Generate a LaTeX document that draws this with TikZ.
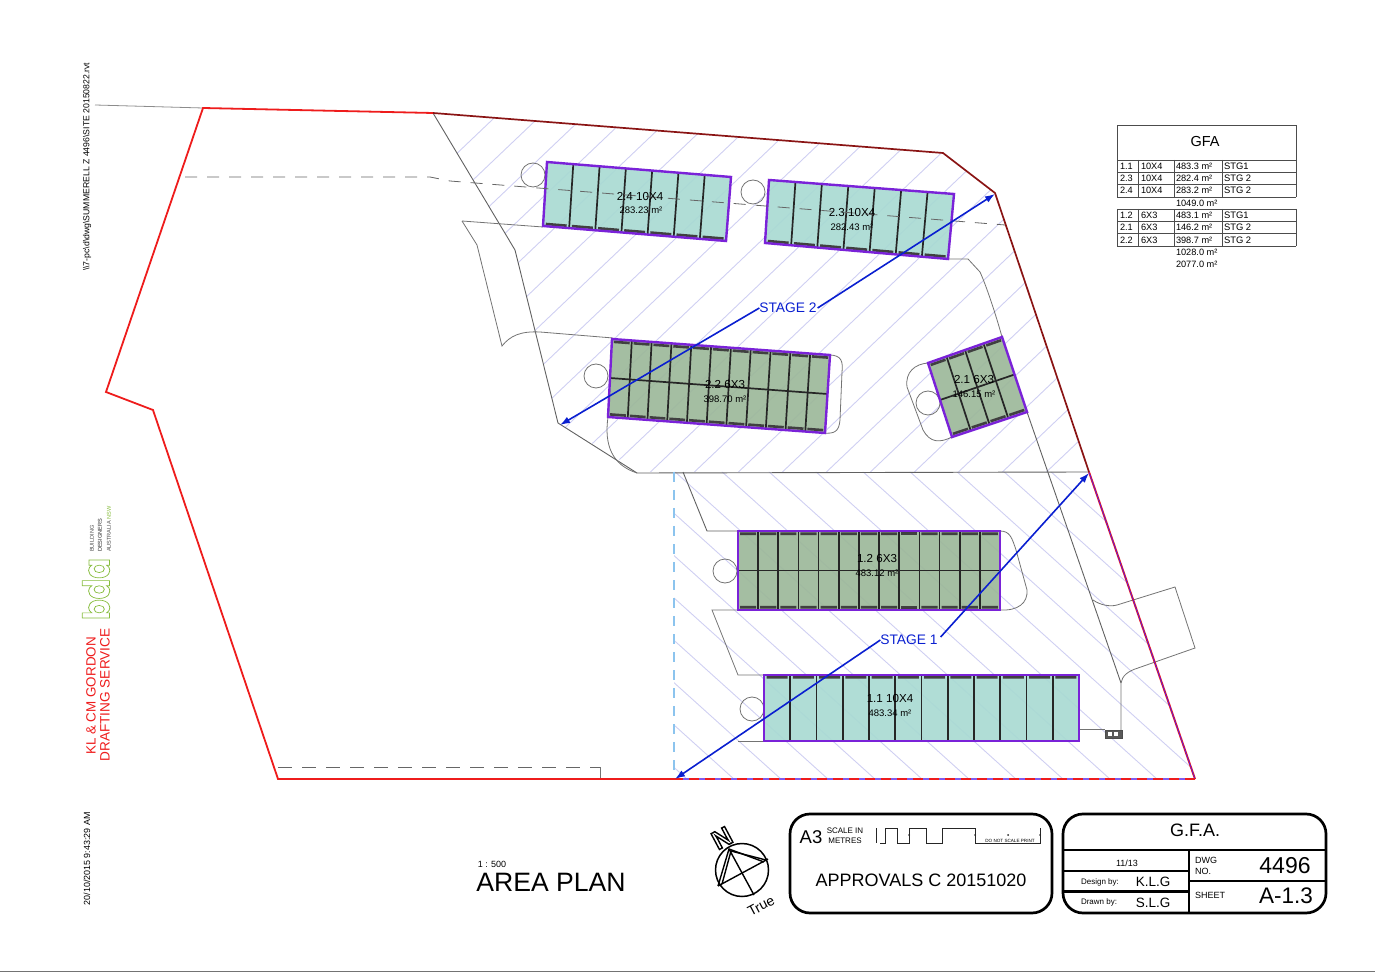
\documentclass[tikz,border=0pt]{standalone}
\usepackage{fontspec}
\setmainfont{Liberation Sans}
\newfontfamily\logofont{Poppins}
\usetikzlibrary{calc,arrows.meta}
\definecolor{sitered}{HTML}{EE1C1C}
\definecolor{darkred}{HTML}{8A1414}
\definecolor{hatchc}{HTML}{CFCFF2}
\definecolor{teal}{HTML}{A9DAD3}
\definecolor{sage}{HTML}{9CB89A}
\definecolor{purp}{HTML}{7A22D8}
\definecolor{arrowb}{HTML}{0A1FD0}
\definecolor{paleb}{HTML}{8CC4EE}
\definecolor{logog}{HTML}{86BC3C}
\newcommand{\fpx}[1]{\fontsize{\fpeval{#1/2}}{\fpeval{#1*0.6}}\selectfont}
\newcommand{\hollow}[2]{\special{pdf:code 1 Tr #1 w}#2\special{pdf:code 0 Tr}}
\tikzset{
  lab/.style={inner sep=0pt,outer sep=0pt},
  road/.style={draw=black!62,line width=0.45pt},
  turn/.style={draw=black!55,line width=0.4pt},
  hatch/.style={draw=hatchc,line width=0.45pt},
  bldg/.style={draw=purp,line width=1.2pt,line join=miter},
  bayline/.style={draw=black!85,line width=0.85pt},
  band/.style={draw=black!75,line width=1.3pt},
  stagearrow/.style={draw=arrowb,line width=0.8pt},
  sheet/.style={draw=black,line width=1.35pt},
  tline/.style={draw=black!70,line width=0.45pt},
  dashline/.style={draw=black!60,line width=0.4pt,dash pattern=on 6pt off 5pt},
}
% bays between edge A-B and edge D-C
\newcommand{\bays}[5]{%
  \pgfmathtruncatemacro\bm{#5-1}%
  \foreach \i in {1,...,\bm}{\pgfmathsetmacro\bt{\i/#5}%
    \draw[bayline] ($(#1)!\bt!(#2)$) -- ($(#4)!\bt!(#3)$);}}
% dark bands along edge A-B, offset towards D-C
\newcommand{\bands}[5]{%
  \pgfmathtruncatemacro\bm{#5-1}%
  \foreach \i in {0,...,\bm}{\pgfmathsetmacro\bs{(\i+.1)/#5}\pgfmathsetmacro\be{(\i+.9)/#5}%
    \draw[band] ($($(#1)!\bs!(#2)$)!.035!($(#4)!\bs!(#3)$)$) -- ($($(#1)!\be!(#2)$)!.035!($(#4)!\be!(#3)$)$);}}
\newcommand{\trow}[6]{%
  \node[lab,anchor=west,font=\fpx{9.2}] (r#1a) at (1120,#2) {#3};
  \node[lab,anchor=west,font=\fpx{9.2}] (r#1b) at (1141,#2) {#4};
  \node[lab,anchor=west,font=\fpx{9.2}] (r#1c) at (1176,#2) {#5 m²};
  \node[lab,anchor=west,font=\fpx{9.4}] (r#1d) at (1224,#2) {#6};}
\begin{document}
\begin{tikzpicture}[x=0.5pt,y=-0.5pt]
\useasboundingbox (0,0) rectangle (1375,972);
% ---- hatching
\begin{scope}
  \clip (433,113) -- (943,153) -- (995,193) -- (1089,472) -- (640,472) -- (558,423) -- (515,250) -- cycle;
  \foreach \n in {0,...,23}{\draw[hatch] ({618+44*\n-105},100) -- ({618+44*\n-504},480);}
\end{scope}
\begin{scope}
  \clip (674,472) -- (1089,472) -- (1195,779) -- (674,779) -- cycle;
  \foreach \n in {-11,...,8}{\draw[hatch] ({245+47*\n+522},470) -- ({245+47*\n+866},780);}
\end{scope}
% ---- site lines
\draw[draw=black!45,line width=0.4pt] (95,105) -- (203,108);
\draw[road] (433,113) -- (515,250) -- (558,423) -- (637,473) -- (1089,472);
\draw[turn] (462,221) -- (543,227);
\draw[turn] (462,221) -- (477,245) -- (502,346) .. controls (510,336) and (520,331) .. (540,332) -- (613,338);
\draw[turn] (608,417) .. controls (604,445) and (612,465) .. (637,473);
\draw[turn] (829,355) .. controls (842,355) and (843,362) .. (842,372) -- (840,420) .. controls (839,432) and (834,434) .. (823,433);
\draw[turn] (948,259) -- (968,259) -- (980,272) .. controls (986,285) and (996,315) .. (1002,337);
\draw[turn] (928,363) .. controls (915,364) and (905,372) .. (907,387) -- (923,430) .. controls (930,443) and (940,443) .. (952,437);
\draw[road] (1027,412) -- (1121,683);
\draw[turn] (1093,600) .. controls (1100,605) and (1110,607) .. (1117,605) -- (1175,587) -- (1195,648) -- (1138,668) .. controls (1128,671) and (1122,676) .. (1121,683) -- (1121,730);
\draw[turn] (1079,729) -- (1105,729);
\draw[road] (683,472) -- (707,531) -- (738,531);
\draw[turn] (1000,531) .. controls (1010,531) and (1012,538) .. (1016,550) -- (1027,590) .. controls (1028,603) and (1018,611) .. (1000,610);
\draw[turn] (738,610) -- (712,610) -- (738,675) -- (764,675);
\draw[turn] (738,741) -- (764,741);
\draw[fill=black!65,draw=black!70,line width=0.4pt] (1105,730) rectangle (1122,738);
\draw[fill=white,draw=none] (1108,732) rectangle (1112,736);
\draw[fill=white,draw=none] (1114,732) rectangle (1118,736);
% circles
\foreach \cx/\cy in {533/175,753/192,596/376,928/403,725/571,752/709}{
  \draw[turn] (\cx,\cy) circle [radius=12];}
% ---- buildings
\coordinate (a24) at (547,162); \coordinate (b24) at (731,177); \coordinate (c24) at (726,241); \coordinate (d24) at (543,226);
\coordinate (a23) at (769,180); \coordinate (b23) at (954,194); \coordinate (c23) at (948,259); \coordinate (d23) at (765,243);
\coordinate (a22) at (612,339); \coordinate (b22) at (830,355); \coordinate (c22) at (825,433); \coordinate (d22) at (608,417);
\coordinate (a21) at (928,363); \coordinate (b21) at (1002,337); \coordinate (c21) at (1027,412); \coordinate (d21) at (952,437);
\coordinate (a12) at (738,531); \coordinate (b12) at (1000,531); \coordinate (c12) at (1000,610); \coordinate (d12) at (738,610);
\coordinate (a11) at (764,675); \coordinate (b11) at (1079,675); \coordinate (c11) at (1079,741); \coordinate (d11) at (764,741);
\foreach \bid/\fc in {24/teal,23/teal,22/sage,21/sage,12/sage,11/teal}{
  \fill[\fc,opacity=.92] (a\bid) -- (b\bid) -- (c\bid) -- (d\bid) -- cycle;}
\bays{a24}{b24}{c24}{d24}{7}\bands{d24}{c24}{b24}{a24}{7}
\bays{a23}{b23}{c23}{d23}{7}\bands{d23}{c23}{b23}{a23}{7}
\bays{a22}{b22}{c22}{d22}{11}\bands{a22}{b22}{c22}{d22}{11}\bands{d22}{c22}{b22}{a22}{11}
\bays{a21}{b21}{c21}{d21}{4}\bands{a21}{b21}{c21}{d21}{4}\bands{d21}{c21}{b21}{a21}{4}
\bays{a12}{b12}{c12}{d12}{13}\bands{a12}{b12}{c12}{d12}{13}\bands{d12}{c12}{b12}{a12}{13}
\bays{a11}{b11}{c11}{d11}{12}\bands{a11}{b11}{c11}{d11}{12}
\draw[bayline] ($(a22)!.5!(d22)$) -- ($(b22)!.5!(c22)$);
\draw[bayline] ($(a21)!.5!(d21)$) -- ($(b21)!.5!(c21)$);
\draw[bayline] ($(a12)!.5!(d12)$) -- ($(b12)!.5!(c12)$);
\foreach \bid in {24,23,22,21,12,11}{
  \draw[bldg] (a\bid) -- (b\bid) -- (c\bid) -- (d\bid) -- cycle;}
% ---- dashed lines
\draw[dashline] (185,177) -- (430,177) -- (450,181) -- (1005,225);
\draw[dashline,dash pattern=on 7pt off 5pt] (278,767) -- (600,767);
\draw[draw=black!55,line width=0.4pt] (600,767) -- (600,779);
\draw[draw=paleb,line width=0.6pt,dash pattern=on 5pt off 4pt] (674,472) -- (674,779);
% ---- boundary
\draw[draw=sitered,line width=0.9pt,line join=miter] (433,113) -- (203,108) -- (106,392) -- (153,410) -- (278,779) -- (674,779);
\draw[draw=darkred,line width=0.85pt,line join=miter] (433,113) -- (943,153) -- (995,193) -- (1089,472);
\draw[draw=sitered,line width=1pt] (1089,472) -- (1195,779);
\draw[draw=purp!70!blue,line width=0.35pt] (1089,472) -- (1195,779);
\draw[draw=purp!60!blue!70!white,line width=0.6pt] (1195,779) -- (674,779);
\draw[draw=sitered,line width=0.7pt,dash pattern=on 5pt off 3pt] (1195,779) -- (674,779);
% ---- building labels
\node[lab,font=\fpx{11.6}] (l24) at (640,197) {2.4 10X4};
\node[lab,font=\fpx{9.5}] (m24) at (641,210) {283.23 m²};
\node[lab,font=\fpx{11.6}] (l23) at (852,213) {2.3 10X4};
\node[lab,font=\fpx{9.5}] (m23) at (852,227) {282.43 m²};
\node[lab,font=\fpx{11.6}] (l22) at (725,385) {2.2 6X3};
\node[lab,font=\fpx{9.5}] (m22) at (725,399) {398.70 m²};
\node[lab,font=\fpx{11.6}] (l21) at (974,380) {2.1 6X3};
\node[lab,font=\fpx{9.5}] (m21) at (974,394) {146.15 m²};
\node[lab,font=\fpx{11.6}] (l12) at (877,559) {1.2 6X3};
\node[lab,font=\fpx{9.5}] (m12) at (877,573) {483.12 m²};
\node[lab,font=\fpx{11.6}] (l11) at (890,699) {1.1 10X4};
\node[lab,font=\fpx{9.5}] (m11) at (890,713) {483.34 m²};
% ---- stage arrows
\coordinate (s2a) at (995,194); \coordinate (s2b) at (560,425);
\coordinate (s1a) at (1089,473); \coordinate (s1b) at (675,779);
\node[lab,text=arrowb,font=\fpx{13.8}] (stage2) at (788,308) {STAGE 2};
\node[lab,text=arrowb,font=\fpx{13.8}] (stage1) at (909,640) {STAGE 1};
\draw[stagearrow,-{Latex[length=5pt,width=3.5pt]}] (stage2.east) ++(1,0) -- (s2a);
\draw[stagearrow,-{Latex[length=5pt,width=3.5pt]}] (stage2.west) -- (s2b);
\draw[stagearrow,-{Latex[length=5pt,width=3.5pt]}] (stage1.east) ++(3,-3) -- (s1a);
\draw[stagearrow,-{Latex[length=5pt,width=3.5pt]}] (stage1.west) -- (s1b);
% ---- GFA table
\draw[tline] (1117,125) rectangle (1296,160);
\node[lab,font=\fpx{14.5}] (gfa) at (1205,142) {GFA};
\foreach \yy in {160,172,184,197,209,221,233,246}{\draw[tline] (1117,\yy) -- (1296,\yy);}
\foreach \xx in {1117,1138,1174,1222,1296}{\draw[tline] (\xx,160) -- (\xx,197); \draw[tline] (\xx,209) -- (\xx,246);}
\trow{1}{166}{1.1}{10X4}{483.3}{STG1}
\trow{2}{178}{2.3}{10X4}{282.4}{STG 2}
\trow{3}{190}{2.4}{10X4}{283.2}{STG 2}
\node[lab,anchor=west,font=\fpx{9.2}] (sum1) at (1176,203) {1049.0 m²};
\trow{4}{215}{1.2}{6X3}{483.1}{STG1}
\trow{5}{227}{2.1}{6X3}{146.2}{STG 2}
\trow{6}{240}{2.2}{6X3}{398.7}{STG 2}
\node[lab,anchor=west,font=\fpx{9.2}] (sum2) at (1176,252) {1028.0 m²};
\node[lab,anchor=west,font=\fpx{9.2}] (sum3) at (1176,264) {2077.0 m²};
% ---- margin texts
\node[lab,rotate=90,anchor=west,font=\fpx{8.7}] (path) at (87,271) {\textbackslash\textbackslash 7-pc\textbackslash d\textbackslash dwg\textbackslash SUMMERELL Z 4496\textbackslash SITE 20150822.rvt};
\node[lab,rotate=90,anchor=west,font=\fpx{8.9}] (stamp) at (87,905) {20/10/2015 9:43:29 AM};
\node[lab,rotate=90,text=sitered,font=\fpx{13.4}] (kl) at (91,696) {KL \& CM GORDON};
\node[lab,rotate=90,text=sitered,font=\fpx{13.6}] (ds) at (105,695) {DRAFTING SERVICE};
\node[lab,rotate=90,text=logog,xscale=.82,font=\logofont\bfseries\fpx{37}] (bda) at (96,589) {\hollow{0.4}{bda}};
\node[lab,rotate=90,anchor=west,text=black!70,font=\fpx{5.6}] (bd1) at (92,552) {BUILDING};
\node[lab,rotate=90,anchor=west,text=black!85,font=\fpx{5.6}] (bd2) at (100,552) {DESIGNERS};
\node[lab,rotate=90,anchor=west,text=black!70,font=\fpx{5.6}] (bd3) at (109,552) {AUSTRALIA \textcolor{logog}{NSW}};
% ---- drawing title
\node[lab,font=\fpx{9}] (scale) at (492,864) {1 : 500};
\node[lab,font=\fpx{26.6}] (plan) at (551,882) {AREA PLAN};
% ---- north point
\coordinate (nc) at (742,870);
\draw[draw=black,line width=0.75pt] (nc) circle [radius=26.5];
\coordinate (ntop) at (729,849); \coordinate (nbot) at (754,895);
\coordinate (wl) at (718,886); \coordinate (wr) at (768,859);
\draw[draw=black,line width=0.7pt] (ntop) -- (nbot);
\draw[draw=black,line width=0.7pt] (wl) -- (wr);
\draw[draw=black,line width=0.7pt] (wl) -- (ntop) -- (764,862);
\draw[draw=black,line width=0.7pt] (722,884) -- (731,851) -- (766,860);
\node[lab,rotate=28,font=\bfseries\fpx{26}] (north) at (722,838) {\hollow{0.7}{N}};
\node[lab,rotate=28,font=\fpx{14}] (true) at (761,906) {True};
% ---- sheet boxes
\draw[sheet,rounded corners=10pt] (790,814) rectangle (1052,913);
\node[lab,font=\fpx{18.5}] (a3) at (811,837) {A3};
\node[lab,font=\fpx{8}] (sc1) at (845,831) {SCALE IN};
\node[lab,font=\fpx{8}] (sc2) at (845,841) {METRES};
\node[lab,font=\fpx{18}] (appr) at (921,880) {APPROVALS C 20151020};
\draw[draw=black!85,line width=0.45pt] (876,828) -- (876,843);
\draw[draw=black!85,line width=0.45pt] (880,843) -- (885,843) -- (885,828) -- (897,828) -- (897,843) -- (909,843) -- (909,828) -- (926,828) -- (926,843) -- (942,843) -- (942,828) -- (975,828) -- (975,843) -- (1040,843) -- (1040,828);
\foreach \tx in {909,975,1008,1040}{\fill[black!85] (\tx,835) circle [radius=1];}
\node[lab,font=\fpx{4.6}] (dns) at (1010,841) {DO NOT SCALE PRINT};
\draw[sheet,rounded corners=10pt] (1063,814) rectangle (1326,913);
\draw[sheet,line width=1.1pt] (1063,850) -- (1326,850);
\draw[sheet,line width=1.1pt] (1189,850) -- (1189,913);
\draw[sheet,line width=1.1pt] (1063,871) -- (1189,871);
\draw[sheet,line width=1.5pt] (1063,891) -- (1189,891);
\draw[sheet,line width=1.1pt] (1189,881) -- (1326,881);
\node[lab,font=\fpx{18}] (gfat) at (1195,830) {G.F.A.};
\node[lab,font=\fpx{9}] (num) at (1127,863) {11/13};
\node[lab,font=\fpx{8}] (desb) at (1100,882) {Design by:};
\node[lab,font=\fpx{13.5}] (klg) at (1153,882) {K.L.G};
\node[lab,font=\fpx{8}] (drwb) at (1099,902) {Drawn by:};
\node[lab,font=\fpx{13.5}] (slg) at (1153,903) {S.L.G};
\node[lab,anchor=west,font=\fpx{9}] (dwg) at (1195,860) {DWG};
\node[lab,anchor=west,font=\fpx{9}] (no) at (1195,871) {NO.};
\node[lab,font=\fpx{23}] (dnum) at (1285,866) {4496};
\node[lab,anchor=west,font=\fpx{9}] (sht) at (1195,895) {SHEET};
\node[lab,font=\fpx{22.5}] (snum) at (1286,896) {A-1.3};
% ---- page edge line
\draw[draw=black!55,line width=0.4pt] (0,971) -- (1375,971);
\end{tikzpicture}
\end{document}
